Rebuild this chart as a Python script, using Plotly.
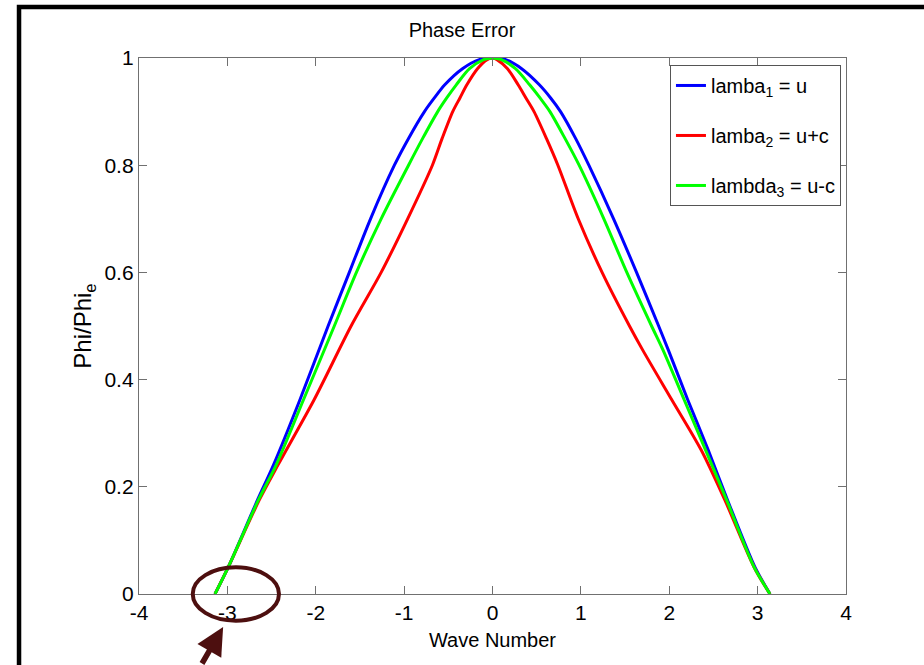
import plotly.graph_objects as go

# Normalised phase Phi/Phi_e against wave number for the three characteristic speeds
phi_levels = [0.0, 0.05, 0.175, 0.24, 0.362, 0.5, 0.6, 0.7, 0.8, 0.85, 0.9, 0.925, 0.95, 0.98, 0.997, 1.0,
              0.997, 0.98, 0.95, 0.925, 0.9, 0.85, 0.8, 0.7, 0.6, 0.5, 0.455, 0.362, 0.269, 0.175, 0.05, 0.0]

k_u = [-3.14, -2.99, -2.66, -2.48, -2.18, -1.86, -1.62, -1.38, -1.11, -0.95, -0.77, -0.66, -0.54, -0.34, -0.15, 0.0,
       0.15, 0.33, 0.53, 0.66, 0.77, 0.94, 1.09, 1.37, 1.63, 1.88, 1.99, 2.21, 2.44, 2.66, 2.97, 3.14]
phi_u = list(phi_levels)

k_upc = [-3.14, -2.99, -2.64, -2.43, -2.02, -1.60, -1.26, -0.96, -0.68, -0.57, -0.45, -0.37, -0.29, -0.17, -0.06, 0.0,
         0.05, 0.17, 0.29, 0.38, 0.47, 0.61, 0.74, 0.97, 1.24, 1.55, 1.70, 2.03, 2.36, 2.63, 2.96, 3.14]
phi_upc = list(phi_levels)

k_umc = [-3.14, -2.99, -2.65, -2.45, -2.14, -1.79, -1.54, -1.26, -0.95, -0.79, -0.62, -0.52, -0.41, -0.26, -0.10, 0.0,
         0.10, 0.26, 0.42, 0.54, 0.65, 0.82, 0.98, 1.26, 1.52, 1.80, 1.93, 2.17, 2.41, 2.65, 2.96, 3.14]
phi_umc = list(phi_levels)

series_names = ["lamba<sub>1</sub> = u", "lamba<sub>2</sub> = u+c", "lambda<sub>3</sub> = u-c"]
series_colors = ["#0000ff", "#ff0000", "#00ff00"]

x_ticks = [-4, -3, -2, -1, 0, 1, 2, 3, 4]
x_tick_text = ["-4", "-3", "-2", "-1", "0", "1", "2", "3", "4"]
y_ticks = [0, 0.2, 0.4, 0.6, 0.8, 1]
y_tick_text = ["0", "0.2", "0.4", "0.6", "0.8", "1"]

FONT = "Liberation Sans, Arial, sans-serif"
AXIS_GREY = "#707070"
MARK = "#4d0f0f"

fig = go.Figure()
for i, (kx, py) in enumerate([(k_u, phi_u), (k_upc, phi_upc), (k_umc, phi_umc)]):
    fig.add_trace(go.Scatter(
        x=kx, y=py, mode="lines", name=series_names[i], legendgroup=f"g{i}",
        line=dict(color=series_colors[i], width=3, shape="spline", smoothing=0.8),
    ))

axis_common = dict(
    showline=True, linecolor=AXIS_GREY, linewidth=1.3, mirror="ticks",
    ticks="inside", ticklen=8, tickcolor=AXIS_GREY, tickwidth=1.2,
    showgrid=False, zeroline=False,
    tickfont=dict(family=FONT, size=21, color="black"),
)

fig.update_xaxes(
    range=[-4, 4], tickmode="array", tickvals=x_ticks, ticktext=x_tick_text,
    title=dict(text="Wave Number", font=dict(family=FONT, size=20, color="black"), standoff=9),
    **axis_common,
)
fig.update_yaxes(
    range=[0, 1], tickmode="array", tickvals=y_ticks, ticktext=y_tick_text,
    title=dict(text="Phi/Phi<sub>e</sub>", font=dict(family=FONT, size=24, color="black"), standoff=6),
    **axis_common,
)

# Outer frame, ring round the lower-left end of the curves and the pointer arrow
shapes = [
    dict(type="rect", xref="paper", yref="paper", x0=-0.1697, x1=1.14, y0=-0.2, y1=1.095,
         line=dict(color="black", width=4.5), fillcolor="rgba(0,0,0,0)", layer="above"),
    dict(type="circle", xref="paper", yref="paper", x0=0.076, x1=0.198, y0=-0.0498, y1=0.0498,
         line=dict(color=MARK, width=4), fillcolor="rgba(0,0,0,0)", layer="above"),
]

annotations = [
    dict(xref="paper", yref="paper", x=0.119, y=-0.0616, ax=-22, ay=52, text="",
         showarrow=True, arrowhead=2, arrowsize=1, arrowwidth=5.5, arrowcolor=MARK, standoff=0),
]

fig.update_layout(
    width=924, height=665,
    margin=dict(l=139, r=78, t=58, b=71, pad=0),
    paper_bgcolor="white", plot_bgcolor="white",
    title=dict(text="Phase Error", x=0.5, xanchor="center", y=0.955, yanchor="middle",
               font=dict(family=FONT, size=20, color="black")),
    legend=dict(
        x=0.751, y=0.987, xanchor="left", yanchor="top",
        bgcolor="white", bordercolor="#555555", borderwidth=1,
        font=dict(family=FONT, size=20, color="black"),
        tracegroupgap=21,
    ),
    showlegend=True,
    shapes=shapes,
    annotations=annotations,
)

fig.write_html("out.html")
